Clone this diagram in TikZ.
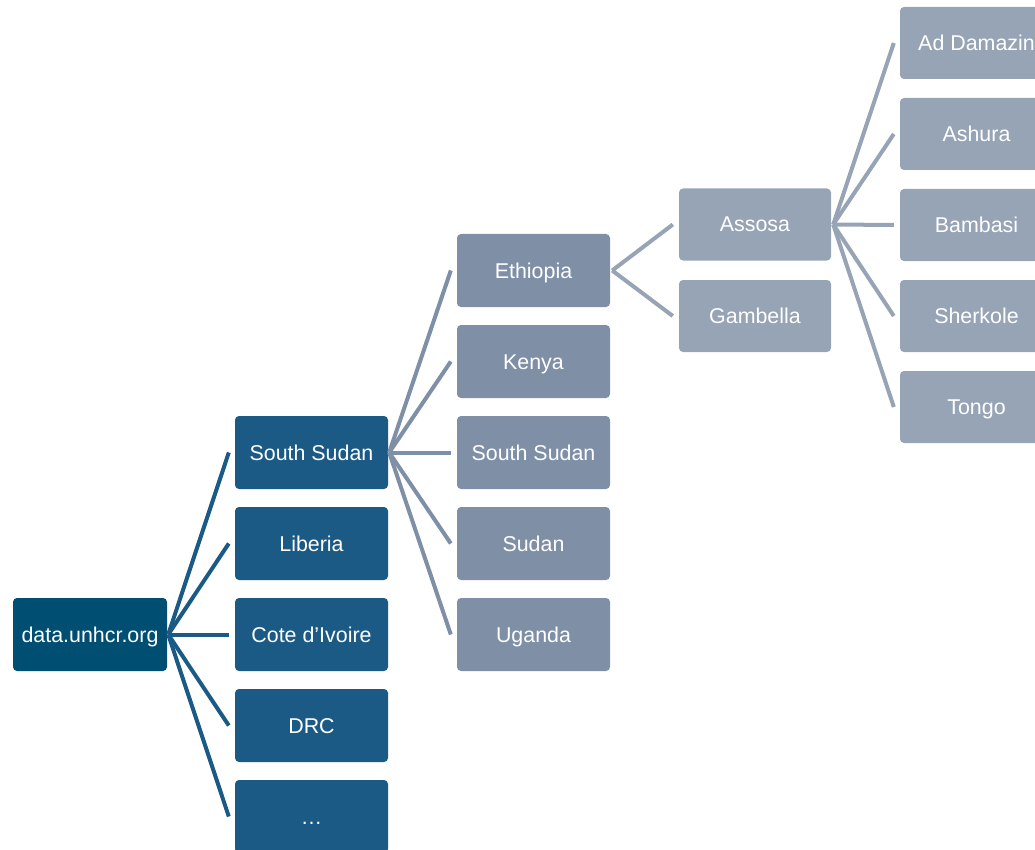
\documentclass[tikz,border=0pt]{standalone}
\usepackage{fontspec}
\setmainfont{Liberation Sans}
\definecolor{cRoot}{HTML}{004E72}
\definecolor{cOne}{HTML}{1B5A84}
\definecolor{cTwo}{HTML}{7E8FA6}
\definecolor{cThree}{HTML}{97A4B5}
\tikzset{
  box/.style={rounded corners=4pt, minimum width=153pt, minimum height=73pt, inner sep=0pt,
    text=white, font=\fontsize{21.4}{24}\selectfont, anchor=center,
    text height=16pt, text depth=1pt},
  rootbox/.style={box, fill=cRoot, minimum width=154pt},
  onebox/.style={box, fill=cOne},
  twobox/.style={box, fill=cTwo},
  threebox/.style={box, fill=cThree, minimum width=152pt, minimum height=72pt},
  fourbox/.style={box, fill=cThree, minimum height=72pt},
  link/.style={line width=4pt},
}
\begin{document}
\begin{tikzpicture}[x=1pt,y=-1pt]
\useasboundingbox (0,0) rectangle (1035,850);
\clip (0,0) rectangle (1035,850);
% nodes
\node[rootbox] (root) at (90,634.5) {data.unhcr.org};
\node[onebox] (s1) at (311.5,452.5) {South Sudan};
\node[onebox] (s2) at (311.5,543.5) {Liberia};
\node[onebox] (s3) at (311.5,634.5) {Cote d’Ivoire};
\node[onebox] (s4) at (311.5,725.5) {DRC};
\node[onebox] (s5) at (311.5,816.5) {…};
\node[twobox] (e1) at (533.5,270.5) {Ethiopia};
\node[twobox] (e2) at (533.5,361.5) {Kenya};
\node[twobox] (e3) at (533.5,452.5) {South Sudan};
\node[twobox] (e4) at (533.5,543.5) {Sudan};
\node[twobox] (e5) at (533.5,634.5) {Uganda};
\node[threebox] (a1) at (755,224.5) {Assosa};
\node[threebox] (a2) at (755,316) {Gambella};
\node[fourbox] (c1) at (976.5,43) {Ad Damazin};
\node[fourbox] (c2) at (976.5,134) {Ashura};
\node[fourbox] (c3) at (976.5,225) {Bambasi};
\node[fourbox] (c4) at (976.5,316) {Sherkole};
\node[fourbox] (c5) at (976.5,407) {Tongo};
% connectors
\coordinate (rootR) at ([xshift=1pt]root.east);
\foreach \n in {s1,s2,s3,s4,s5}
  \draw[link, cOne] (rootR) -- ([xshift=-6pt]\n.west);
\coordinate (s1R) at ([xshift=1pt]s1.east);
\foreach \n in {e1,e2,e3,e4,e5}
  \draw[link, cTwo] (s1R) -- ([xshift=-6pt]\n.west);
\coordinate (e1R) at ([xshift=2pt]e1.east);
\foreach \n in {a1,a2}
  \draw[link, cThree] (e1R) -- ([xshift=-6pt]\n.west);
\coordinate (a1R) at ([xshift=2pt]a1.east);
\foreach \n in {c1,c2,c3,c4,c5}
  \draw[link, cThree] (a1R) -- ([xshift=-6pt]\n.west);
\end{tikzpicture}
\end{document}
